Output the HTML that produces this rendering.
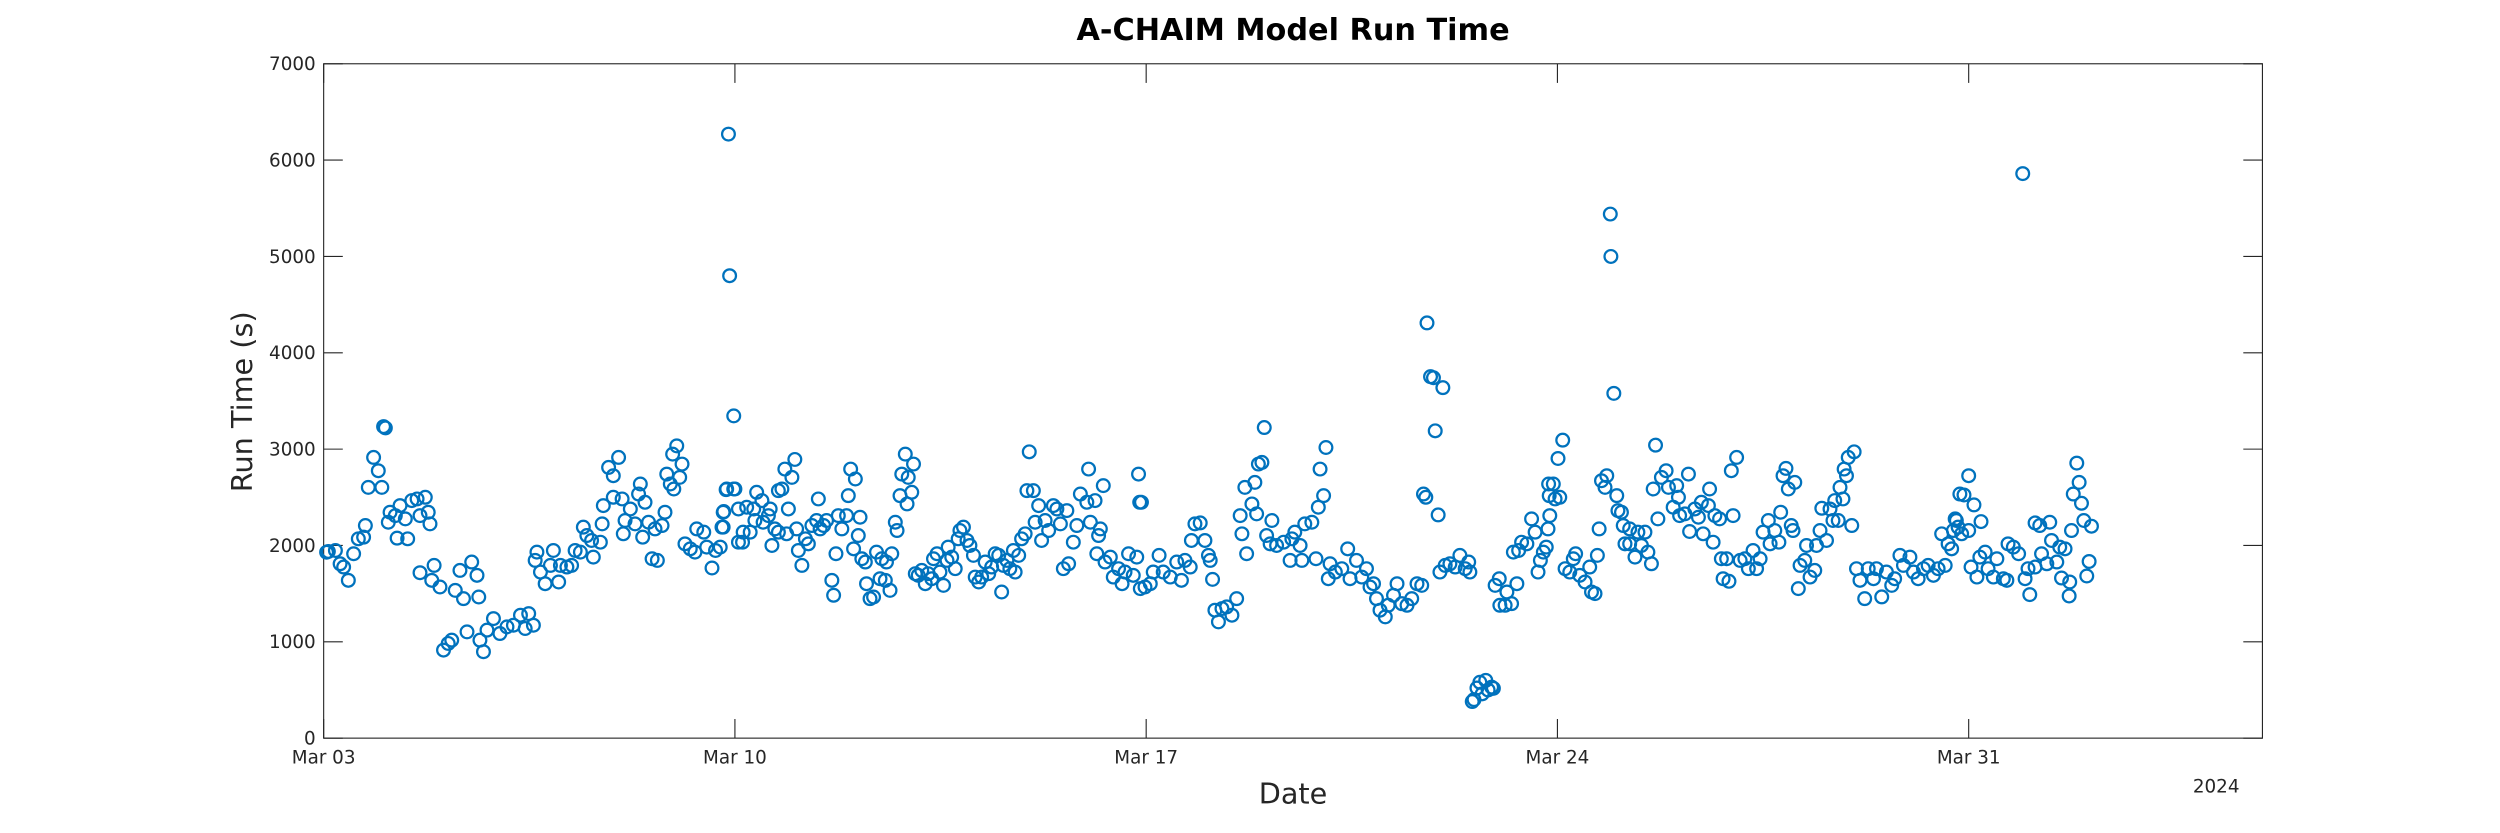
<!DOCTYPE html>
<html><head><meta charset="utf-8"><title>A-CHAIM Model Run Time</title>
<style>html,body{margin:0;padding:0;background:#fff;}svg{display:block;}text{font-family:"DejaVu Sans","Liberation Sans",sans-serif;fill:#262626;}</style></head>
<body>
<svg id="chart" xmlns="http://www.w3.org/2000/svg" width="2500" height="833" viewBox="0 0 1568 522.5" preserveAspectRatio="none">
<rect width="1568" height="522.5" fill="#fff"/>
<text x="811" y="25" text-anchor="middle" font-size="19" font-weight="bold" style="fill:#000">A-CHAIM Model Run Time</text>
<g id="axes"></g>
<g id="marks"></g>
<text transform="translate(158,252) rotate(-90)" text-anchor="middle" font-size="18">Run Time (s)</text>
<text x="811" y="504" text-anchor="middle" font-size="18">Date</text>
<text x="1390" y="497" text-anchor="middle" font-size="11.5">2024</text>
</svg>
<script>
const yTicks=[0,1000,2000,3000,4000,5000,6000,7000];
const xTickDays=[0,7,14,21,28];
const xTickLabels=["Mar 03","Mar 10","Mar 17","Mar 24","Mar 31"];
const days=[0.05,0.08,0.2,0.28,0.34,0.42,0.51,0.59,0.68,0.71,0.76,0.85,0.93,0.99,1.02,1.05,1.1,1.13,1.22,1.3,1.25,1.43,1.39,1.5,1.59,1.64,1.73,1.78,1.81,1.64,1.88,1.84,1.98,2.24,2.32,2.38,2.52,2.61,2.64,2.44,2.04,2.12,2.18,2.72,2.66,2.78,2.89,3.0,3.12,3.23,3.35,3.49,3.57,3.43,3.6,3.63,3.69,3.77,3.86,3.91,4.0,4.03,4.14,4.22,4.28,4.37,4.42,4.48,4.56,4.59,4.71,4.74,4.76,4.85,4.93,5.02,4.93,5.08,5.1,5.13,5.22,5.3,5.36,5.39,5.43,5.47,5.53,5.59,5.68,5.64,5.76,5.81,5.84,5.9,5.94,6.01,6.1,6.06,5.96,6.15,6.24,6.32,6.35,6.47,6.52,6.61,6.67,6.75,6.78,6.81,6.85,6.98,6.98,6.89,6.91,7.06,7.06,
6.8,6.8,6.86,7.0,7.14,7.13,7.2,7.26,7.32,7.37,7.34,7.46,7.48,7.6,7.57,7.63,7.68,7.74,7.8,7.74,7.85,7.91,7.88,7.97,8.02,8.05,8.08,8.14,8.2,8.25,8.31,8.39,8.45,8.42,8.51,8.56,8.65,8.68,8.72,8.76,8.82,8.9,8.93,8.97,9.05,9.02,9.1,9.13,9.16,9.22,9.24,9.3,9.36,9.41,9.47,9.5,9.56,9.58,9.64,9.67,9.73,9.76,9.81,9.84,9.9,9.95,10.01,9.93,10.04,10.07,10.12,10.18,10.24,10.29,10.35,10.38,10.44,10.49,10.55,10.61,10.63,10.69,10.75,10.8,10.83,10.89,10.95,11.0,11.06,11.09,11.15,11.2,11.26,11.32,11.37,11.43,11.49,11.54,11.57,11.63,11.68,11.74,11.77,11.83,11.88,11.94,11.97,12.01,12.08,12.11,12.17,12.22,12.28,12.34,12.42,12.48,12.54,12.59,12.68,12.65,12.76,12.82,12.88,12.99,13.02,13.05,13.13,13.22,13.27,13.16,13.19,13.3,13.39,13.44,13.53,13.59,13.64,13.7,13.78,13.84,13.87,13.89,13.9,
13.92,13.98,14.07,14.12,14.22,14.29,14.41,14.52,14.6,14.66,14.75,14.77,14.83,14.92,15.0,15.06,15.09,15.13,15.17,15.23,15.29,15.37,15.46,15.54,15.6,15.63,15.71,15.68,15.8,15.85,15.91,15.97,16.01,15.88,16.05,16.14,16.11,16.22,16.34,16.45,16.48,16.53,16.62,16.65,16.7,16.82,16.89,16.93,17.02,16.96,17.06,17.1,17.13,17.22,17.33,17.43,17.47,17.58,17.67,17.75,17.81,17.87,17.92,17.98,18.07,18.12,18.21,18.27,18.35,18.44,18.52,18.61,18.69,18.72,18.76,18.78,18.84,18.89,19.05,18.92,18.97,19.0,19.09,19.17,19.26,19.34,19.43,19.51,19.49,19.55,19.58,19.63,19.68,19.72,19.78,19.82,19.88,19.91,19.94,20.01,20.02,20.11,20.14,20.22,20.31,20.25,20.34,20.39,20.48,20.56,20.62,20.67,20.71,20.76,20.85,20.86,
20.81,20.84,20.87,20.96,21.04,20.93,21.01,21.09,21.13,21.21,21.27,21.31,21.38,21.47,21.55,21.58,21.64,21.68,21.71,21.75,21.84,21.81,21.9,21.91,21.96,22.01,22.03,22.09,22.12,22.15,22.23,22.23,22.32,22.37,22.43,22.49,22.54,22.6,22.63,22.67,22.71,22.77,22.85,22.89,22.97,23.03,23.06,23.08,23.17,23.23,23.25,23.34,23.4,23.45,23.48,23.57,23.59,23.65,23.68,23.76,23.79,23.88,23.82,23.92,23.99,23.96,24.05,24.11,24.19,24.25,24.33,24.39,24.45,24.5,24.59,24.62,24.7,24.77,24.8,24.84,24.89,24.93,25.04,24.98,25.01,25.1,25.13,25.21,25.24,25.3,25.38,25.41,25.47,25.5,25.58,25.64,25.69,25.72,25.78,25.81,25.86,25.88,25.92,25.95,26.05,26.01,26.09,26.15,26.23,26.29,26.38,26.43,26.52,26.6,26.69,26.74,26.83,26.89,27.0,27.06,27.14,27.23,27.31,27.4,27.48,27.54,27.6,27.65,27.71,27.77,27.82,27.85,
27.79,27.74,27.88,28.0,27.92,28.0,28.09,28.21,28.04,28.14,28.19,28.28,28.33,28.42,28.48,28.59,28.65,28.67,28.76,28.85,28.92,28.96,29.04,29.01,29.13,29.13,29.21,29.38,29.24,29.33,29.41,29.5,29.55,29.64,29.58,29.72,29.71,29.75,29.78,29.88,29.84,29.92,29.96,30.09,30.05,30.01];
const runTimes=[1930,1938,1948,1810,1776,1638,1914,2069,2086,2207,2603,2914,2776,2603,3234,3220,2241,2345,2310,2414,2076,2069,2276,2466,2483,2310,2500,2345,2224,1717,1793,1638,1569,1534,1741,1448,1828,1690,1465,1103,914,983,1017,897,1017,1121,1241,1086,1155,1172,1276,1293,1172,1138,1845,1931,1724,1603,1793,1948,1621,1793,1776,1793,1948,1931,2190,2103,2052,1879,2034,2224,2414,2810,2724,2914,2500,2483,2121,2259,2379,2224,2534,2638,2086,2448,2241,1862,1845,2172,2207,2345,2741,2638,2948,3034,2845,2707,2586,2017,1965,1931,2172,2138,1983,1766,1948,1983,2190,2352,2579,2586,3345,6270,4800,2379,2034,
2345,2190,2586,2586,2138,2034,2397,2138,2379,2552,2259,2466,2241,2379,2310,2000,2172,2569,2586,2138,2793,2379,2121,2707,2893,2172,1948,1793,2069,2017,2207,2259,2172,2483,2207,2259,1638,1483,1914,2310,2172,2310,2517,2793,2690,1965,2103,2293,1862,1828,1603,1448,1465,1931,1655,1862,1638,1828,1534,1914,2241,2155,2517,2741,2948,2707,2552,2431,2845,1707,1690,1741,1603,1707,1655,1862,1914,1724,1586,1845,1983,1879,1759,2069,2155,2190,2052,2000,1897,1672,1621,1672,1828,1707,1776,1914,1897,1517,1793,1845,1759,1948,1724,1897,2069,2121,2569,2972,2569,2241,2414,2052,2259,2155,2414,2379,2224,1759,1810,2362,2034,2207,2534,2448,2793,2241,2466,2172,2621,1914,2103,1828,1879,1672,1759,1603,1724,1914,1690,1879,2741,2448,1552,
2448,1569,1603,1724,1897,1724,1672,1828,1638,1845,1776,2052,2224,2234,2052,1897,1845,1648,1328,1207,1345,1362,1276,1448,2310,2121,1914,2603,2431,2655,2845,2862,3224,2328,2103,2259,2017,2000,2034,1845,2069,2138,2000,1845,2224,2241,1862,2397,2517,2793,3017,1655,1810,1724,1759,1965,1655,1845,1672,1759,1569,1603,1448,1328,1259,1379,1483,1603,1396,1379,1448,1603,1586,2534,2500,4310,3752,3741,3638,3190,2317,1724,1793,1810,1776,1897,1759,1724,1828,380,400,520,580,460,600,500,530,517,1586,1655,1379,1379,1517,1396,1603,1931,1948,2034,2017,2276,2138,1724,1845,1931,2638,2517,
1983,2172,2310,2483,2500,2638,2903,3093,1759,1724,1862,1914,1690,1621,1776,1517,1500,1897,2172,2672,2724,2603,5440,5000,3579,2517,2362,2345,2207,2017,2172,2017,1879,2138,2000,2138,1931,1810,2586,3041,2276,2707,2776,2603,2397,2621,2500,2310,2328,2741,2145,2379,2293,2448,2121,2414,2586,2034,2310,2276,1862,1862,1655,1628,2310,2776,2914,1845,1862,1759,1948,1759,1862,2138,2259,2017,2155,2034,2345,2724,2800,2586,2655,2207,2155,1552,1793,1845,2000,1672,1741,2000,2155,2386,2052,2379,2259,2466,2259,2603,2483,2793,2724,2914,2972,2207,1759,1638,1448,1759,1655,1759,1466,1724,1586,1655,1897,1793,1879,1724,1655,1759,1793,1690,1759,2121,1793,2017,1965,2276,2190,2534,
2259,2155,2121,2155,2524,2724,2421,2248,1776,1672,1879,1931,1759,1672,1862,1655,1638,2017,1983,1914,5860,1655,1490,1759,1776,2234,2207,2241,1914,1810,2052,1828,1983,1965,1662,1621,1476,2155,2534,2655,2855,2438,2259,2200,1834,1683];

const NS='http://www.w3.org/2000/svg';
const L=203,R=1419,T=40,B=463,DMAX=33,VMAX=7000;
const xs=d=>L+d/DMAX*(R-L);
const ys=v=>B-v/VMAX*(B-T);
const axes=document.getElementById('axes');
function mk(tag,attrs,parent){const e=document.createElementNS(NS,tag);for(const k in attrs)e.setAttribute(k,attrs[k]);parent.appendChild(e);return e;}
const frame=mk('rect',{x:L,y:T,width:R-L,height:B-T,fill:'none',stroke:'#262626','stroke-width':0.7},axes);


yTicks.forEach(v=>{
  const y=ys(v);
  const t1=mk('line',{x1:L,x2:L+12,y1:y,y2:y,stroke:'#262626','stroke-width':0.7},axes);
  
  
  const t2=mk('line',{x1:R-12,x2:R,y1:y,y2:y,stroke:'#262626','stroke-width':0.7},axes);
  
  
  const tx=mk('text',{x:L-5,y:y+4,'text-anchor':'end','font-size':11.5},axes);
  tx.textContent=v;
  
  
});
xTickDays.forEach((d,i)=>{
  const x=xs(d);
  const t1=mk('line',{x1:x,x2:x,y1:B,y2:B-12,stroke:'#262626','stroke-width':0.7},axes);
  
  
  const t2=mk('line',{x1:x,x2:x,y1:T,y2:T+12,stroke:'#262626','stroke-width':0.7},axes);
  
  
  const tx=mk('text',{x:x,y:479,'text-anchor':'middle','font-size':11.5},axes);
  tx.textContent=xTickLabels[i];
  
  
});
const marks=document.getElementById('marks');
days.forEach((d,i)=>{
  const c=mk('circle',{cx:xs(d),cy:ys(runTimes[i]),r:4,fill:'none',stroke:'#0072BD','stroke-width':1.4},marks);
  
  
});
</script>
</body></html>
